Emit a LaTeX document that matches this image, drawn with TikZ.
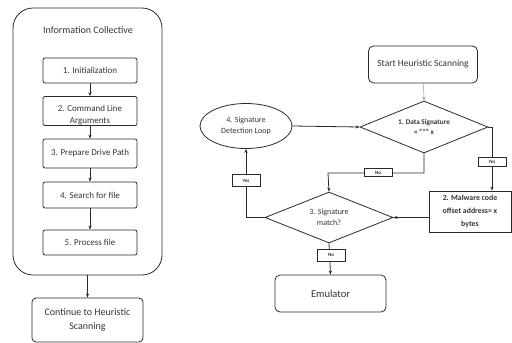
\documentclass[tikz,border=0pt]{standalone}
\usepackage{fontspec}
\setmainfont{Carlito}
\usetikzlibrary{shapes.geometric,arrows.meta}
\definecolor{ln}{HTML}{2A2A2A}
\definecolor{txt}{HTML}{333333}
\definecolor{lgray}{HTML}{9A9A9A}
\begin{document}
\begin{tikzpicture}[x=1pt,y=-1pt,line width=0.8pt,
  every node/.style={text=txt},
  lbox/.style={draw=ln, rounded corners=2pt, inner sep=0pt, align=center,
    minimum width=94pt, font=\fontsize{9}{12}\selectfont},
  rbox/.style={draw=ln, rounded corners=5pt, inner sep=0pt, align=center},
  dia/.style={diamond, draw=ln, inner sep=0pt, aspect=2.5, align=center,
    minimum width=128pt, minimum height=52pt},
  lab/.style={draw=ln, fill=white, inner sep=0pt, minimum width=28pt,
    font=\bfseries\fontsize{5}{6}\selectfont},
  arr/.style={ln, -{Stealth[length=4pt,width=3.2pt]}}]
\useasboundingbox (0,0) rectangle (512,343);

% ---------------- left part ----------------
\node[draw=ln, rounded corners=20pt, minimum width=149pt, minimum height=267pt,
  inner sep=0pt] (outer) at (87.5,141.5) {};
\node[font=\fontsize{10}{12}\selectfont] (title) at (88,30) {Information Collective};
\node[lbox, minimum height=25pt] (b1) at (90,70.5) {1. Initialization};
\node[lbox, minimum height=29pt] (b2) at (90,111) {};
\node[align=center, inner sep=0pt, font=\fontsize{9}{12}\selectfont] (b2t) at (90,115.5)
  {2. Command Line\\Arguments};
\node[lbox, minimum height=29pt] (b3) at (90,153.5) {3. Prepare Drive Path};
\node[lbox, minimum height=26pt] (b4) at (90,195) {4. Search for file};
\node[lbox, minimum height=25pt] (b5) at (90,242.5) {5. Process file};
\node[draw=ln, rounded corners=4pt, minimum width=111pt, minimum height=44pt,
  inner sep=0pt, align=center, font=\fontsize{10}{14}\selectfont] (cont) at (87.5,320)
  {Continue to Heuristic\\Scanning};

\draw[arr] (b1) -- (b2);
\draw[arr] (b2) -- (b3);
\draw[arr] (b3) -- (b4);
\draw[arr] (b4) -- (b5);
\draw[arr] (outer.south) -- (cont.north);

% ---------------- right part ----------------
\node[rbox, minimum width=109pt, minimum height=37pt,
  font=\fontsize{9.5}{12}\selectfont] (start) at (423,64.5) {Start Heuristic Scanning};
\node[dia, font=\bfseries\fontsize{7.2}{10}\selectfont] (d1) at (424,127)
  {1. Data Signature\\= “*” x};
\node[draw=ln, rectangle, inner sep=0pt, minimum width=82pt, minimum height=41pt,
  align=center, font=\bfseries\fontsize{7.8}{13}\selectfont] (mal) at (470,211.5)
  {2. Malware code\\offset address= x\\bytes};
\node[dia, minimum height=51pt, font=\fontsize{8}{11}\selectfont] (d3) at (329,217.5)
  {3. Signature\\match?};
\node[ellipse, draw=ln, inner sep=0pt, minimum width=92pt, minimum height=45pt,
  align=center, font=\fontsize{8}{11}\selectfont] (ell) at (246,126)
  {4. Signature\\Detection Loop};
\node[rbox, minimum width=111pt, minimum height=37pt,
  font=\fontsize{10.5}{12}\selectfont] (emu) at (330.5,293.5) {Emulator};

\coordinate (c1) at (492,127);
\coordinate (c2) at (424,173);
\coordinate (c3) at (328,173);
\coordinate (c4) at (246,217.5);

\draw[lgray, line width=0.5pt, -{Stealth[length=4pt,width=3.2pt]}] (start) -- (d1.north);
\draw[arr] (ell.east) -- (d1.west);
\draw[arr] (d1.east) -- (c1) -- (c1 |- mal.north);
\draw[arr] (mal.west |- d3.east) -- (d3.east);
\draw[arr] (d1.south) -- (c2) -- (c3) -- (d3.north);
\draw[arr] (d3.west) -- (c4) -- (ell.south);
\draw[arr] (d3.south) -- (emu.north);

\node[lab, minimum height=9pt] (yes1) at (492,162) {Yes};
\node[lab, minimum height=8pt] (no1) at (378,172.5) {No};
\node[lab, minimum height=12pt] (yes2) at (246,180.5) {Yes};
\node[lab, minimum height=12pt] (no2) at (331,255) {No};
\end{tikzpicture}
\end{document}
